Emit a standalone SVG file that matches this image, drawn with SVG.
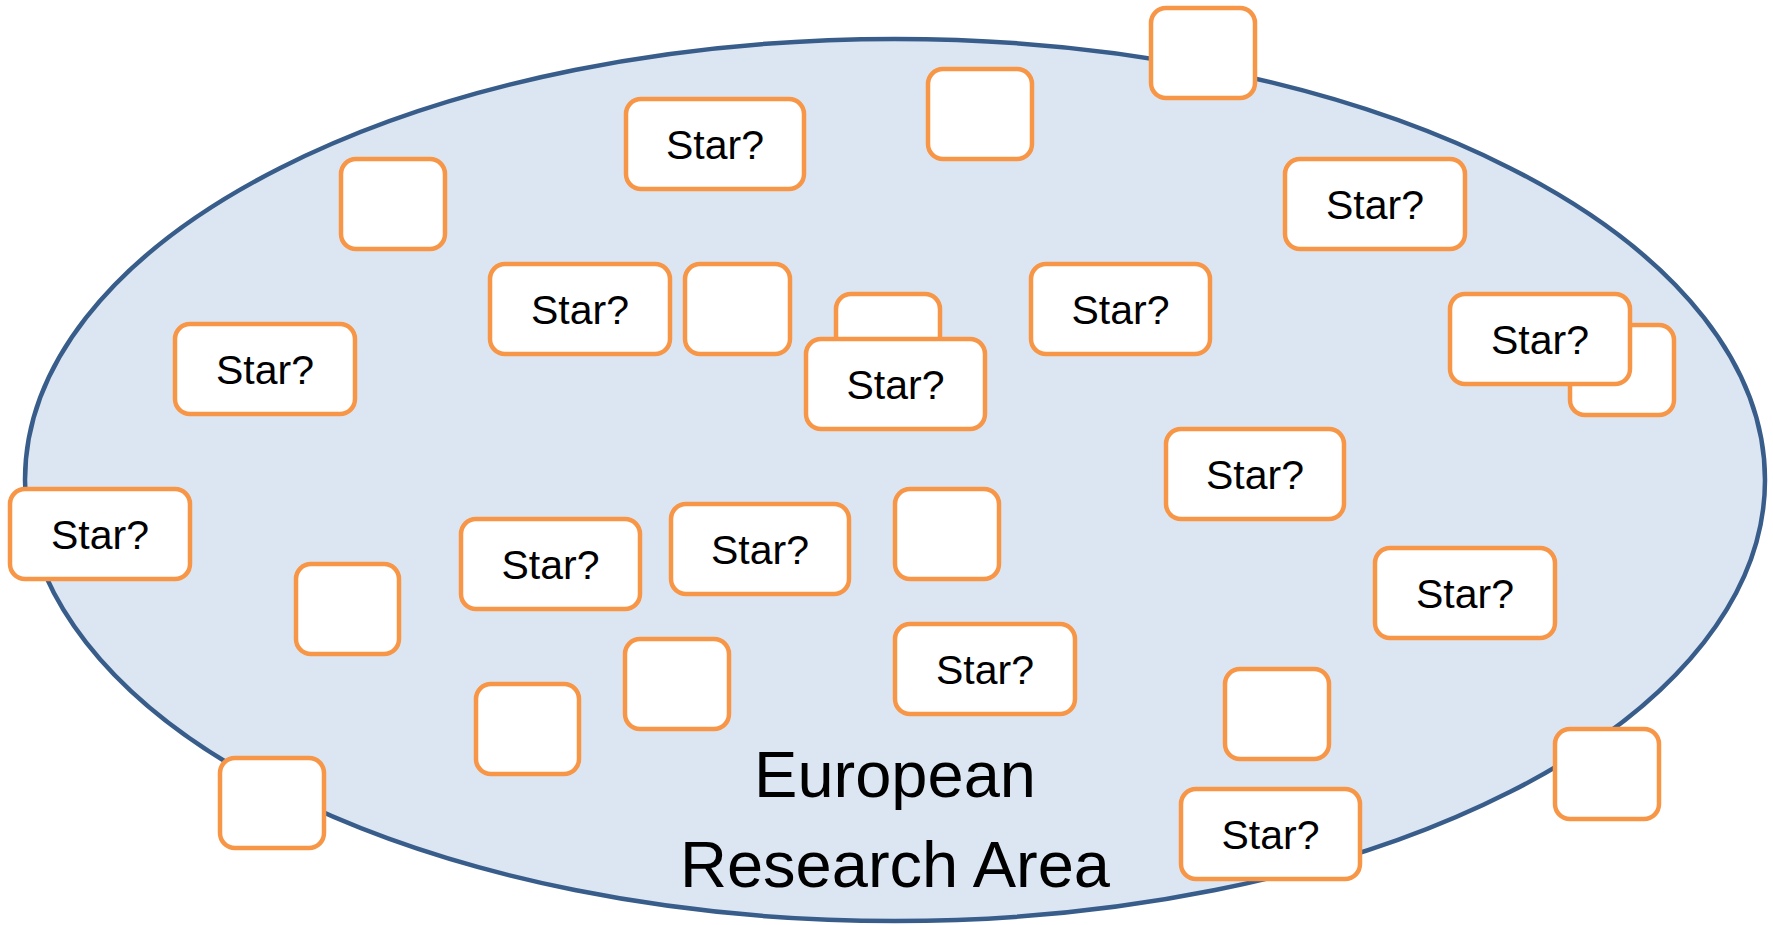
<svg xmlns="http://www.w3.org/2000/svg" width="1773" height="925" viewBox="0 0 1773 925">
<style>
.box{fill:#FFFFFF;stroke:#F79646;stroke-width:4.5}
.lbl{font-family:"Liberation Sans",Arial,sans-serif;font-size:41px;fill:#000000;text-anchor:middle}
.title{font-family:"Liberation Sans",Arial,sans-serif;font-size:65px;fill:#000000;text-anchor:middle}
</style>
<rect x="0" y="0" width="1773" height="925" fill="#FFFFFF"/>
<g id="era">
<ellipse cx="895" cy="480" rx="870" ry="441" fill="#DCE6F2" stroke="#385D8A" stroke-width="4.5"/>
<text class="title" x="895" y="797">European</text>
<text class="title" x="895" y="887">Research Area</text>
</g>
<g id="connectors"></g>
<g id="n6"><rect class="box" x="836" y="294" width="104" height="90" rx="15"/></g>
<g id="n13"><rect class="box" x="1570" y="325" width="104" height="90" rx="15"/></g>
<g id="n1"><rect class="box" x="626" y="99" width="178" height="90" rx="15"/><text class="lbl" x="715" y="159">Star?</text></g>
<g id="n2"><rect class="box" x="341" y="159" width="104" height="90" rx="15"/></g>
<g id="n3"><rect class="box" x="490" y="264" width="180" height="90" rx="15"/><text class="lbl" x="580" y="324">Star?</text></g>
<g id="n4"><rect class="box" x="685" y="264" width="105" height="90" rx="15"/></g>
<g id="n5"><rect class="box" x="175" y="324" width="180" height="90" rx="15"/><text class="lbl" x="265" y="384">Star?</text></g>
<g id="n7"><rect class="box" x="806" y="339" width="179" height="90" rx="15"/><text class="lbl" x="895.5" y="399">Star?</text></g>
<g id="n8"><rect class="box" x="1151" y="8" width="104" height="90" rx="15"/></g>
<g id="n9"><rect class="box" x="928" y="69" width="104" height="90" rx="15"/></g>
<g id="n10"><rect class="box" x="1285" y="159" width="180" height="90" rx="15"/><text class="lbl" x="1375" y="219">Star?</text></g>
<g id="n11"><rect class="box" x="1031" y="264" width="179" height="90" rx="15"/><text class="lbl" x="1120.5" y="324">Star?</text></g>
<g id="n12"><rect class="box" x="1450" y="294" width="180" height="90" rx="15"/><text class="lbl" x="1540" y="354">Star?</text></g>
<g id="n14"><rect class="box" x="1166" y="429" width="178" height="90" rx="15"/><text class="lbl" x="1255" y="489">Star?</text></g>
<g id="n15"><rect class="box" x="10" y="489" width="180" height="90" rx="15"/><text class="lbl" x="100" y="549">Star?</text></g>
<g id="n16"><rect class="box" x="296" y="564" width="103" height="90" rx="15"/></g>
<g id="n17"><rect class="box" x="461" y="519" width="179" height="90" rx="15"/><text class="lbl" x="550.5" y="579">Star?</text></g>
<g id="n18"><rect class="box" x="671" y="504" width="178" height="90" rx="15"/><text class="lbl" x="760" y="564">Star?</text></g>
<g id="n19"><rect class="box" x="476" y="684" width="103" height="90" rx="15"/></g>
<g id="n20"><rect class="box" x="625" y="639" width="104" height="90" rx="15"/></g>
<g id="n21"><rect class="box" x="220" y="758" width="104" height="90" rx="15"/></g>
<g id="n22"><rect class="box" x="895" y="489" width="104" height="90" rx="15"/></g>
<g id="n23"><rect class="box" x="895" y="624" width="180" height="90" rx="15"/><text class="lbl" x="985" y="684">Star?</text></g>
<g id="n24"><rect class="box" x="1375" y="548" width="180" height="90" rx="15"/><text class="lbl" x="1465" y="608">Star?</text></g>
<g id="n25"><rect class="box" x="1225" y="669" width="104" height="90" rx="15"/></g>
<g id="n26"><rect class="box" x="1555" y="729" width="104" height="90" rx="15"/></g>
<g id="n27"><rect class="box" x="1181" y="789" width="179" height="90" rx="15"/><text class="lbl" x="1270.5" y="849">Star?</text></g>
</svg>
